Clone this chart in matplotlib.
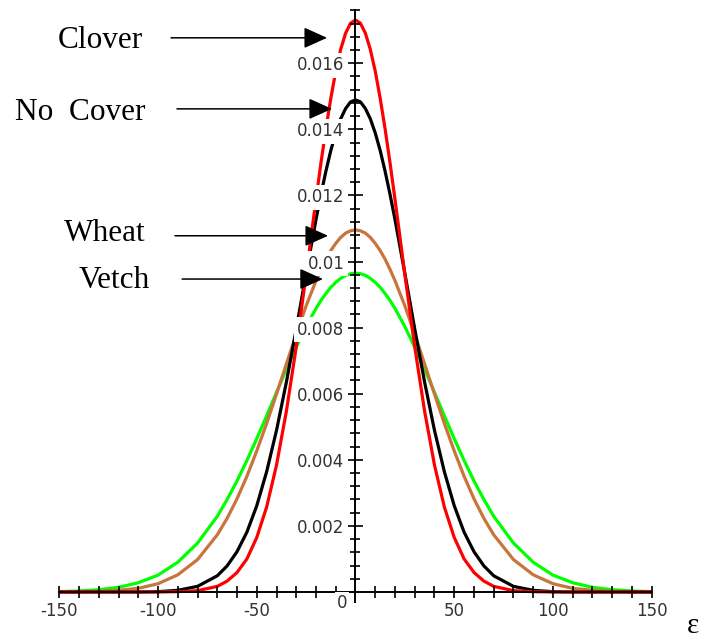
import matplotlib
matplotlib.use('Agg')
import matplotlib.pyplot as plt
import numpy as np

# values
eps = [-150, -140, -130, -120, -110, -100, -90, -80, -70,
       -65, -60, -55, -50, -45, -40, -35, -30, -25,
       -20, -17.5, -15, -12.5, -10, -7.5, -5, -2.5,
       0, 2.5, 5, 7.5, 10, 12.5, 15, 17.5, 20,
       25, 30, 35, 40, 45, 50, 55, 60, 65,
       70, 80, 90, 100, 110, 120, 130, 140, 150]

clover = [0, 0, 0, 0, 0, 0, 0.00001, 0.00004, 0.00017,
          0.00033, 0.00059, 0.00100, 0.00165, 0.00257, 0.00384, 0.00547, 0.00742, 0.00961,
          0.01188, 0.01298, 0.01401, 0.01494, 0.01576, 0.01642, 0.01691, 0.01721,
          0.01731, 0.01721, 0.01691, 0.01642, 0.01576, 0.01494, 0.01401, 0.01298, 0.01188,
          0.00961, 0.00742, 0.00547, 0.00384, 0.00257, 0.00165, 0.00100, 0.00059, 0.00033,
          0.00017, 0.00004, 0.00001, 0, 0, 0, 0, 0, 0]

no_cover = [0, 0, 0, 0, 0, 0.00001, 0.00005, 0.00017, 0.00049,
            0.00079, 0.00122, 0.00181, 0.00261, 0.00364, 0.00489, 0.00635, 0.00796, 0.00964,
            0.01127, 0.01203, 0.01273, 0.01336, 0.01389, 0.01432, 0.01463, 0.01483,
            0.01489, 0.01483, 0.01463, 0.01432, 0.01389, 0.01336, 0.01273, 0.01203, 0.01127,
            0.00964, 0.00796, 0.00635, 0.00489, 0.00364, 0.00261, 0.00181, 0.00122, 0.00079,
            0.00049, 0.00017, 0.00005, 0.00001, 0, 0, 0, 0, 0]

wheat = [0, 0.00001, 0.00002, 0.00005, 0.00011, 0.00025, 0.00052, 0.00098, 0.00173,
         0.00223, 0.00282, 0.00350, 0.00427, 0.00510, 0.00599, 0.00690, 0.00780, 0.00866,
         0.00942, 0.00976, 0.01007, 0.01033, 0.01055, 0.01073, 0.01086, 0.01093,
         0.01096, 0.01093, 0.01086, 0.01073, 0.01055, 0.01033, 0.01007, 0.00976, 0.00942,
         0.00866, 0.00780, 0.00690, 0.00599, 0.00510, 0.00427, 0.00350, 0.00282, 0.00223,
         0.00173, 0.00098, 0.00052, 0.00025, 0.00011, 0.00005, 0.00002, 0.00001, 0]

vetch = [0.00001, 0.00003, 0.00007, 0.00014, 0.00028, 0.00051, 0.00090, 0.00148, 0.00229,
         0.00280, 0.00336, 0.00398, 0.00464, 0.00533, 0.00604, 0.00674, 0.00741, 0.00803,
         0.00858, 0.00882, 0.00903, 0.00922, 0.00937, 0.00949, 0.00958, 0.00963,
         0.00965, 0.00963, 0.00958, 0.00949, 0.00937, 0.00922, 0.00903, 0.00882, 0.00858,
         0.00803, 0.00741, 0.00674, 0.00604, 0.00533, 0.00464, 0.00398, 0.00336, 0.00280,
         0.00229, 0.00148, 0.00090, 0.00051, 0.00028, 0.00014, 0.00007, 0.00003, 0.00001]

names = ['Clover', 'No  Cover', 'Wheat', 'Vetch']

x_ticks = [-150, -100, -50, 50, 100, 150]
x_labels = ['-150', '-100', '-50', '50', '100', '150']
y_ticks = [0.002, 0.004, 0.006, 0.008, 0.010, 0.012, 0.014, 0.016]
y_labels = ['0.002', '0.004', '0.006', '0.008', '0.01', '0.012', '0.014', '0.016']

tick_col = '#333333'

fig = plt.figure(figsize=(7.05, 6.41), dpi=100)
ax = fig.add_axes([0.0841, 0.0610, 0.8403, 0.9228])

for ys, col in [(vetch, '#00ff00'), (wheat, '#c8743c'), (no_cover, 'black'), (clover, 'red')]:
    ax.plot(eps, ys, color=col, lw=2.3, solid_joinstyle='round')

ax.set_xlim(-150, 150)
ax.set_ylim(-0.0003, 0.0176)
ax.spines['left'].set_position(('data', 0))
ax.spines['bottom'].set_position(('data', 0))
ax.spines['top'].set_visible(False)
ax.spines['right'].set_visible(False)
for s in ['left', 'bottom']:
    ax.spines[s].set_linewidth(1.4)
ax.set_axisbelow(False)
ax.patch.set_visible(False)

ax.set_xticks(x_ticks, x_labels)
ax.set_xticks(np.arange(-150, 151, 10), minor=True)
ax.set_yticks(y_ticks, y_labels)
ax.set_yticks(np.arange(1, 45) * 0.0004, minor=True)

ax.tick_params(axis='x', which='both', direction='inout', length=8, width=1.2,
               labelsize=12, pad=3, labelcolor=tick_col)
ax.tick_params(axis='y', which='major', direction='inout', length=11, width=1.2,
               labelsize=12, pad=2.5, labelcolor=tick_col)
ax.tick_params(axis='y', which='minor', direction='inout', length=7, width=1.2)

# white boxes behind the y labels (they cut the curves in the original)
for lab in ax.get_yticklabels():
    lab.set_bbox(dict(facecolor='white', edgecolor='none', pad=2.5))

ax.text(-6.8, -0.00032, '0', ha='center', va='center', fontsize=12, color=tick_col,
        bbox=dict(facecolor='white', edgecolor='none', pad=1.5), zorder=4)

# labels with arrows
label_pos = [(-107.6, 0.01645), (-106.1, 0.01428), (-106.1, 0.01063), (-104.1, 0.00919)]
arrow_tail = [(-93.4, 0.01677), (-90.4, 0.01462), (-91.4, 0.01078), (-87.8, 0.00947)]
arrow_head = [(-14.4, 0.01677), (-11.9, 0.01462), (-13.9, 0.01078), (-16.5, 0.00947)]

for name, lp, tail, head in zip(names, label_pos, arrow_tail, arrow_head):
    ax.text(lp[0], lp[1], name, ha='right', va='baseline', fontsize=22.5,
            family='Liberation Serif', zorder=5)
    ax.annotate('', xy=head, xytext=tail,
                arrowprops=dict(arrowstyle='-|>,head_length=1.0,head_width=0.45',
                                mutation_scale=14.4, color='black', lw=1.1,
                                shrinkA=0, shrinkB=0), zorder=5)

fig.text(693 / 705, 1 - 633 / 641, 'ε', fontsize=21, family='Liberation Serif',
         ha='center', va='baseline')

plt.savefig('out.png', dpi=100)
